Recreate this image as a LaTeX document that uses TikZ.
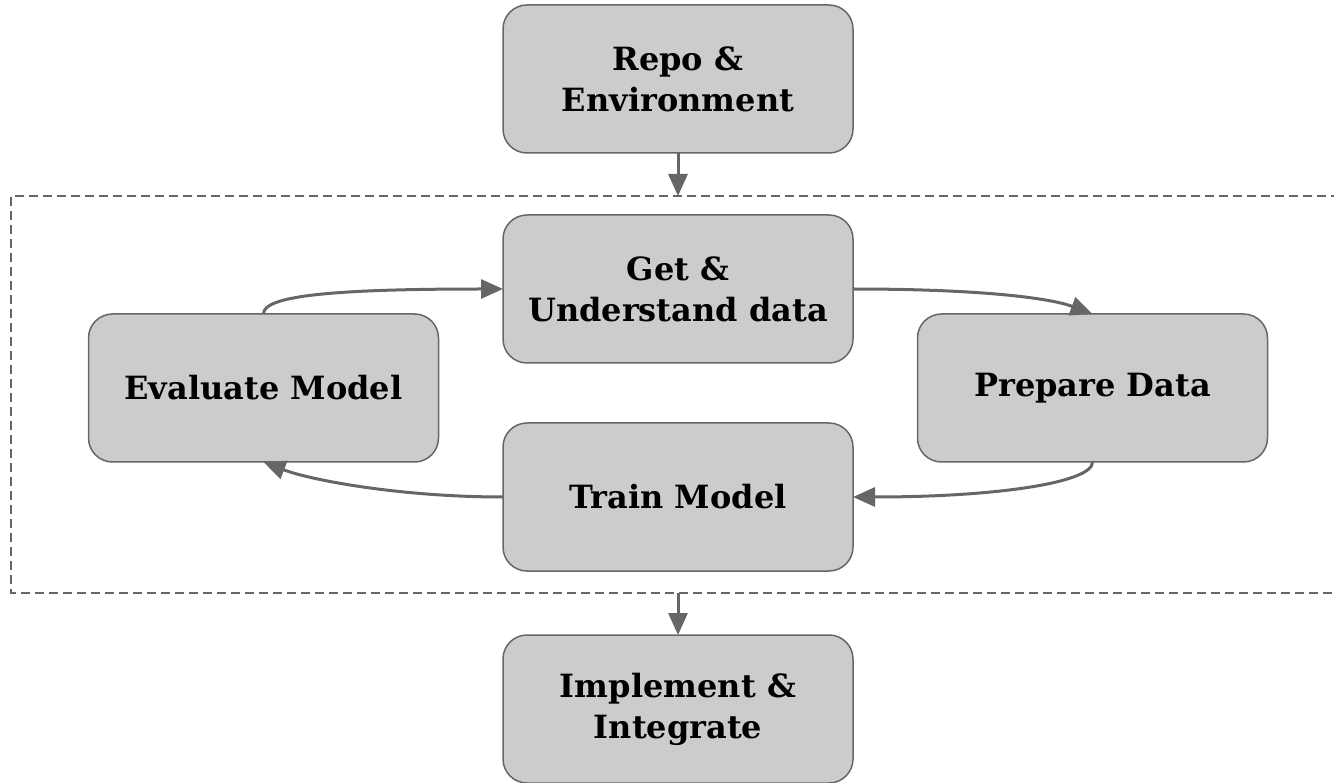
\documentclass[tikz,border=0pt]{standalone}
\usepackage{fontspec}
\setmainfont{DejaVu Serif}
\usetikzlibrary{arrows.meta}
\definecolor{boxfill}{HTML}{CCCCCC}
\definecolor{edge}{HTML}{666666}
\tikzset{
  stage/.style={draw=edge, line width=1.5pt, fill=boxfill, rounded corners=24pt,
    minimum width=350pt, minimum height=148pt, inner sep=0pt, outer sep=0pt,
    align=center, font=\fontsize{32}{41}\selectfont\bfseries},
  flow/.style={draw=edge, line width=3pt,
    -{Triangle[length=22pt,width=19pt]}},
  frame/.style={draw=edge, line width=1.5pt, dash pattern=on 9pt off 5pt}
}
\begin{document}
\begin{tikzpicture}[x=1pt,y=-1pt]
\useasboundingbox (0,0) rectangle (1334,783);
% dashed frame round the loop (open on the right)
\draw[frame] (1340,196) -- (11,196) -- (11,593) -- (1340,593);
\coordinate (frametop) at (678,196);
\coordinate (framebot) at (678,593);
% stages
\node[stage] (repo)  at (678,79)    {Repo \&\\Environment};
\node[stage] (get)   at (678,289)   {Get \&\\Understand data};
\node[stage] (eval)  at (263.5,388) {Evaluate Model};
\node[stage] (prep)  at (1092.5,388){Prepare Data};
\node[stage] (train) at (678,497)   {Train Model};
\node[stage] (impl)  at (678,709)   {Implement \&\\Integrate};
% connectors
\draw[flow] (repo.south) -- (frametop);
\draw[flow] (framebot) -- (impl.north);
\draw[flow] (eval.north) .. controls (263,296) and (330,289) .. (get.west);
\draw[flow] (get.east) .. controls (980,289) and (1050,298) .. (prep.north);
\draw[flow] (prep.south) .. controls (1093,482) and (1000,497) .. (train.east);
\draw[flow] (train.west) .. controls (400,497) and (310,480) .. (eval.south);
\end{tikzpicture}
\end{document}
